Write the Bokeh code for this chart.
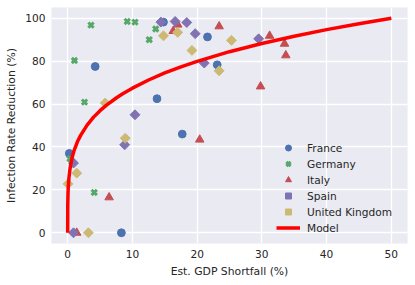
import numpy as np
from bokeh.plotting import figure
from bokeh.models import Range1d, Legend, LegendItem, FixedTicker
from bokeh.embed import file_html
from bokeh.resources import INLINE

# Data
france_x = [4.25, 14.8, 21.6, 23.1, 13.8, 17.7, 8.3, 0.25]
france_y = [77.5, 98.2, 91.3, 78.3, 62.5, 46.0, 0.0, 37.0]

germany_x = [3.6, 1.05, 9.2, 10.4, 13.6, 12.6, 2.6, 4.1, 0.35]
germany_y = [96.8, 80.3, 98.5, 98.2, 95.0, 90.0, 60.9, 18.8, 34.5]

italy_x = [17.0, 16.3, 23.4, 31.2, 33.5, 33.7, 29.8, 20.4, 6.4, 1.4]
italy_y = [97.0, 94.0, 96.2, 91.8, 88.1, 82.7, 68.2, 43.4, 16.5, 0.0]

spain_x = [14.4, 16.6, 18.4, 19.7, 21.1, 29.5, 10.4, 8.8, 0.9, 0.9]
spain_y = [98.2, 98.5, 98.0, 92.8, 79.1, 90.4, 55.0, 41.0, 32.5, 0.0]

uk_x = [14.8, 17.0, 19.2, 25.3, 23.4, 5.8, 8.9, 1.4, 0.05, 3.2]
uk_y = [91.8, 93.4, 85.0, 89.7, 75.5, 60.5, 44.1, 27.8, 22.8, 0.0]

model_x = [0, 0.01, 0.05, 0.1, 0.2, 0.35, 0.5, 0.75, 1, 1.5, 2, 3, 4, 5, 6, 7.5, 8.5, 10, 12.5,
           15, 17.5, 20, 25, 30, 35, 40, 45, 50]
model_y = [0, 12.4, 18.4, 21.8, 25.8, 29.6, 32.4, 35.8, 38.4, 42.4, 45.4, 50.2, 53.9, 56.9, 59.5,
           62.8, 64.8, 67.4, 71.2, 74.5, 77.3, 79.9, 84.4, 88.2, 91.6, 94.7, 97.4, 100]

x_ticks = [0, 10, 20, 30, 40, 50]
y_ticks = [0, 20, 40, 60, 80, 100]

FONT = "DejaVu Sans"
TXT = "#262626"

p = figure(frame_width=356, frame_height=236, output_backend="svg", toolbar_location=None,
           x_range=Range1d(-2.5, 52.5), y_range=Range1d(-5, 105),
           min_border_left=51, min_border_top=7, min_border_right=2, min_border_bottom=20,
           background_fill_color="#EAEAF2", border_fill_color="white")
p.outline_line_color = None

for ax in (p.xaxis, p.yaxis):
    ax.axis_line_color = None
    ax.major_tick_line_color = None
    ax.minor_tick_line_color = None
    ax.major_tick_out = 0
    ax.major_tick_in = 0
    ax.minor_tick_out = 0
    ax.minor_tick_in = 0
    ax.major_label_text_font = FONT
    ax.major_label_text_font_size = "10.6px"
    ax.major_label_text_color = TXT
    ax.axis_label_text_font = FONT
    ax.axis_label_text_font_size = "10.8px"
    ax.axis_label_text_font_style = "normal"
    ax.axis_label_text_color = TXT
p.xaxis.ticker = FixedTicker(ticks=x_ticks)
p.yaxis.ticker = FixedTicker(ticks=y_ticks)
p.xaxis.axis_label = "Est. GDP Shortfall (%)"
p.yaxis.axis_label = "Infection Rate Reduction (%)"
p.xaxis.major_label_standoff = 6
p.yaxis.major_label_standoff = 6
p.xaxis.axis_label_standoff = 4
p.yaxis.axis_label_standoff = 4

p.grid.grid_line_color = "white"
p.grid.grid_line_width = 1.3

r_fr = p.scatter(france_x, france_y, marker="circle", size=7.8, fill_color="#4C72B0", line_color="#4C72B0")
r_de = p.scatter(germany_x, germany_y, marker="x", size=7.5, line_color="#55A868", line_width=3)
r_it = p.scatter(italy_x, italy_y, marker="triangle", size=8.5, fill_color="#C44E52", line_color="#C44E52")
r_es = p.scatter(spain_x, spain_y, marker="square", angle=np.pi / 4, size=7, fill_color="#8172B2", line_color="#8172B2")
r_uk = p.scatter(uk_x, uk_y, marker="square", angle=np.pi / 4, size=7, fill_color="#CCB974", line_color="#CCB974")
r_md = p.line(model_x, model_y, line_color="red", line_width=3.5, line_join="round")

legend = Legend(items=[
    LegendItem(label="France", renderers=[r_fr]),
    LegendItem(label="Germany", renderers=[r_de]),
    LegendItem(label="Italy", renderers=[r_it]),
    LegendItem(label="Spain", renderers=[r_es]),
    LegendItem(label="United Kingdom", renderers=[r_uk]),
    LegendItem(label="Model", renderers=[r_md]),
], location=(225, 8))
legend.background_fill_alpha = 0
legend.border_line_color = None
legend.padding = 0
legend.margin = 0
legend.spacing = 1
legend.glyph_height = 15
legend.label_height = 15
legend.glyph_width = 24
legend.label_standoff = 7
legend.label_text_font = FONT
legend.label_text_font_size = "10.6px"
legend.label_text_color = TXT
p.add_layout(legend, "center")

open("out.html", "w").write(file_html(p, INLINE))
